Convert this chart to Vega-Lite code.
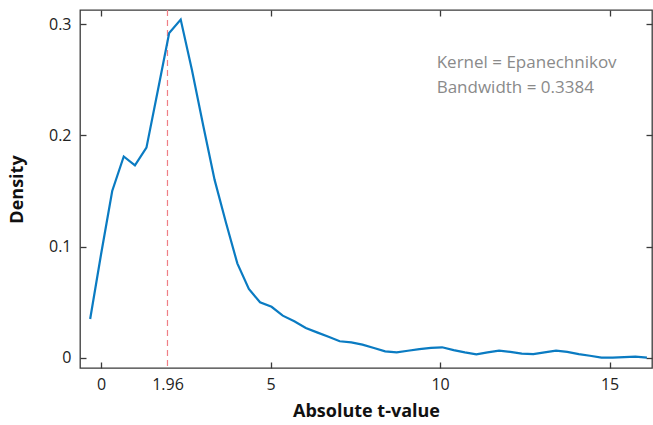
{
  "$schema": "https://vega.github.io/schema/vega-lite/v6.json",
  "width": 572,
  "height": 358,
  "autosize": "none",
  "padding": {"left": 80, "top": 10, "right": 1, "bottom": 57},
  "config": {
    "view": {"stroke": "#3a3a3a", "strokeWidth": 1.3},
    "font": "Open Sans",
    "axis": {"domain": false, "grid": false, "tickColor": "#3a3a3a", "tickWidth": 1.3, "labelColor": "#222", "titleColor": "#111"}
  },
  "datasets": {
    "density": [
      {"t": -0.32, "d": 0.035}, {"t": 0.0, "d": 0.093}, {"t": 0.33, "d": 0.150}, {"t": 0.67, "d": 0.181},
      {"t": 1.0, "d": 0.173}, {"t": 1.34, "d": 0.189}, {"t": 1.68, "d": 0.241}, {"t": 2.01, "d": 0.292},
      {"t": 2.35, "d": 0.304}, {"t": 2.68, "d": 0.259}, {"t": 3.02, "d": 0.208}, {"t": 3.35, "d": 0.160},
      {"t": 3.69, "d": 0.121}, {"t": 4.02, "d": 0.085}, {"t": 4.36, "d": 0.062}, {"t": 4.69, "d": 0.050},
      {"t": 5.03, "d": 0.046}, {"t": 5.36, "d": 0.038}, {"t": 5.7, "d": 0.033}, {"t": 6.04, "d": 0.027},
      {"t": 6.37, "d": 0.023}, {"t": 6.71, "d": 0.019}, {"t": 7.04, "d": 0.015}, {"t": 7.38, "d": 0.014},
      {"t": 7.71, "d": 0.012}, {"t": 8.05, "d": 0.009}, {"t": 8.38, "d": 0.006}, {"t": 8.72, "d": 0.005},
      {"t": 9.05, "d": 0.0065}, {"t": 9.39, "d": 0.008}, {"t": 9.73, "d": 0.009}, {"t": 10.06, "d": 0.0096},
      {"t": 10.4, "d": 0.007}, {"t": 10.73, "d": 0.005}, {"t": 11.07, "d": 0.0033}, {"t": 11.4, "d": 0.005},
      {"t": 11.74, "d": 0.0066}, {"t": 12.07, "d": 0.0055}, {"t": 12.41, "d": 0.004}, {"t": 12.75, "d": 0.0035},
      {"t": 13.08, "d": 0.005}, {"t": 13.42, "d": 0.0066}, {"t": 13.75, "d": 0.0055}, {"t": 14.09, "d": 0.0035},
      {"t": 14.42, "d": 0.002}, {"t": 14.76, "d": 0.0003}, {"t": 15.09, "d": 0.0003}, {"t": 15.43, "d": 0.0008},
      {"t": 15.76, "d": 0.0012}, {"t": 16.1, "d": 0.0003}
    ],
    "ref": [{"t": 1.96}],
    "note": [{"t": 9.9, "d": 0.2606}]
  },
  "layer": [
    {
      "data": {"name": "ref"},
      "mark": {"type": "rule", "color": "#f07f86", "strokeDash": [6, 4], "strokeWidth": 1.2},
      "encoding": {
        "x": {"field": "t", "type": "quantitative", "axis": null}
      }
    },
    {
      "data": {"name": "density"},
      "mark": {"type": "line", "color": "#0a7bc2", "strokeWidth": 2.2},
      "encoding": {
        "x": {
          "field": "t", "type": "quantitative",
          "scale": {"domain": [-0.62, 16.25], "nice": false, "zero": false},
          "axis": {
            "orient": "bottom", "values": [0, 1.96, 5, 10, 15],
            "labelExpr": "'' + datum.value",
            "tickSize": -6, "labelPadding": 14, "labelFontSize": 16,
            "tickOpacity": {"condition": {"test": "datum.value === 1.96", "value": 0}, "value": 1},
            "title": "Absolute t-value", "titleFontSize": 18, "titleFontWeight": "bold", "titlePadding": 10
          }
        },
        "y": {
          "field": "d", "type": "quantitative",
          "scale": {"domain": [-0.009, 0.3126], "nice": false, "zero": false},
          "axis": {
            "orient": "left", "values": [0, 0.1, 0.2, 0.3],
            "labelExpr": "datum.value === 0 ? '0' : format(datum.value, '.1f')",
            "tickSize": -6, "labelPadding": 15, "labelFontSize": 16,
            "title": "Density", "titleFontSize": 18, "titleFontWeight": "bold", "titlePadding": 22
          }
        }
      }
    },
    {
      "data": {"name": "density"},
      "mark": {"type": "line", "opacity": 0},
      "encoding": {
        "x": {"field": "t", "type": "quantitative",
              "axis": {"orient": "top", "values": [0, 5, 10, 15], "labels": false, "tickSize": -6, "title": null}},
        "y": {"field": "d", "type": "quantitative",
              "axis": {"orient": "right", "values": [0, 0.1, 0.2, 0.3], "labels": false, "tickSize": -6, "title": null}}
      }
    },
    {
      "data": {"name": "note"},
      "mark": {"type": "text", "align": "left", "baseline": "alphabetic", "fontSize": 17, "color": "#8a8a8a", "lineHeight": 25},
      "encoding": {
        "x": {"field": "t", "type": "quantitative", "axis": null},
        "y": {"field": "d", "type": "quantitative", "axis": null},
        "text": {"value": ["Kernel = Epanechnikov", "Bandwidth = 0.3384"]}
      }
    }
  ],
  "resolve": {"axis": {"x": "independent", "y": "independent"}}
}
